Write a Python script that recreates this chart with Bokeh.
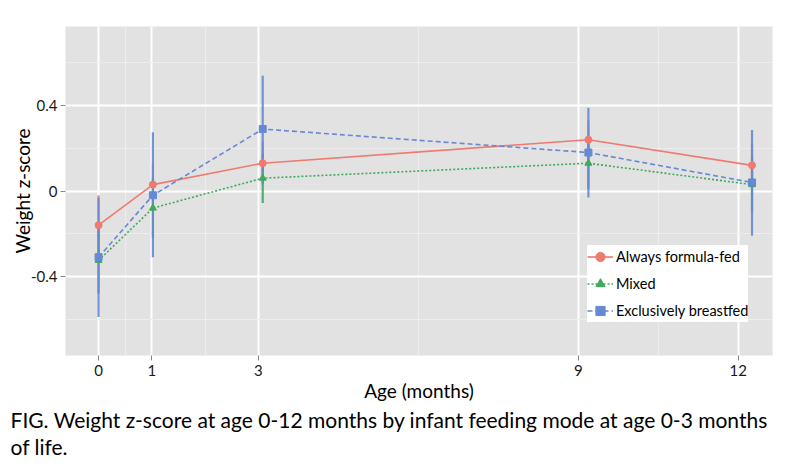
from bokeh.plotting import figure
from bokeh.models import Range1d, FixedTicker, Legend, LegendItem, Title, ColumnDataSource
from bokeh.embed import file_html
from bokeh.resources import INLINE

# ---- data ----
ages = [0.0, 1.02, 3.08, 9.19, 12.26]
x_ticks = [0, 1, 3, 9, 12]
y_ticks = [-0.4, 0.0, 0.4]

formula_mean = [-0.16, 0.03, 0.13, 0.24, 0.12]
formula_lo = [-0.30, -0.07, 0.03, 0.15, 0.02]
formula_hi = [-0.02, 0.13, 0.23, 0.33, 0.22]

mixed_mean = [-0.325, -0.08, 0.06, 0.13, 0.03]
mixed_lo = [-0.48, -0.22, -0.056, 0.01, -0.10]
mixed_hi = [-0.17, 0.06, 0.176, 0.25, 0.16]

breast_mean = [-0.31, -0.02, 0.29, 0.18, 0.04]
breast_lo = [-0.59, -0.31, 0.035, -0.03, -0.21]
breast_hi = [-0.03, 0.275, 0.54, 0.39, 0.285]

labels = ["Always formula-fed", "Mixed", "Exclusively breastfed"]
FONT = "Lato"

RED = "#EE7A70"
GREEN = "#3DAA5C"
BLUE = "#6689D2"

p = figure(width=773, height=459, output_backend="svg", toolbar_location=None,
           x_range=Range1d(-0.62, 12.644), y_range=Range1d(-0.77, 0.77),
           min_border_left=65, min_border_right=1, min_border_top=26, min_border_bottom=104)

p.background_fill_color = "#E2E2E2"
p.border_fill_color = "white"
p.outline_line_color = None

# axes
p.xaxis.ticker = FixedTicker(ticks=x_ticks, minor_ticks=[0.5, 2, 6, 10.5])
p.yaxis.ticker = FixedTicker(ticks=y_ticks, minor_ticks=[-0.6, -0.2, 0.2, 0.6])
p.yaxis.major_label_overrides = {-0.4: "-0.4", 0.0: "0", 0.4: "0.4", 0: "0"}
for ax in (p.xaxis[0], p.yaxis[0]):
    ax.axis_line_color = None
    ax.major_tick_line_color = "#888888"
    ax.major_tick_in = 0
    ax.major_tick_out = 5
    ax.minor_tick_line_color = None
    ax.major_label_text_font = FONT
    ax.major_label_text_font_size = "15px"
    ax.major_label_text_color = "#1a1a1a"
    ax.axis_label_text_font = FONT
    ax.axis_label_text_font_size = "19px"
    ax.axis_label_text_font_style = "normal"
    ax.axis_label_text_color = "black"
p.xaxis.axis_label = "Age (months)"
p.yaxis.axis_label = "Weight z-score"
p.xaxis.major_label_standoff = 4
p.xaxis.axis_label_standoff = 0
p.yaxis.major_label_standoff = 3
p.yaxis.axis_label_standoff = -6

# grid
for g in (p.xgrid[0], p.ygrid[0]):
    g.grid_line_color = "white"
    g.grid_line_width = 2
    g.minor_grid_line_color = "#EDEDED"
    g.minor_grid_line_width = 1

series = [
    (formula_mean, formula_lo, formula_hi, RED, "solid", "circle"),
    (mixed_mean, mixed_lo, mixed_hi, GREEN, "2 2", "triangle"),
    (breast_mean, breast_lo, breast_hi, BLUE, "5 3", "square"),
]

# error bars
for mean, lo, hi, col, dash, marker in series:
    src = ColumnDataSource(dict(x=ages, lo=lo, hi=hi))
    p.segment(x0="x", y0="lo", x1="x", y1="hi", source=src, line_color=col, line_width=2.2, line_alpha=0.9)

items = []
for (mean, lo, hi, col, dash, marker), lab in zip(series, labels):
    src = ColumnDataSource(dict(x=ages, y=mean))
    lr = p.line("x", "y", source=src, line_color=col, line_width=1.6, line_dash=dash)
    sr = p.scatter("x", "y", source=src, marker=marker, size=7, fill_color=col, line_color=col)
    items.append(LegendItem(label=lab, renderers=[lr, sr]))

legend = Legend(items=items, location=(522, 33), background_fill_color="white",
                background_fill_alpha=1.0, border_line_color=None,
                label_text_font=FONT, label_text_font_size="14.5px", label_text_color="black",
                padding=4, spacing=4, margin=0, glyph_width=26, glyph_height=23,
                label_height=23, label_standoff=3)
p.add_layout(legend, "center")

# caption below
cap1 = Title(text="FIG. Weight z-score at age 0-12 months by infant feeding mode at age 0-3 months",
             align="left", offset=-55, text_font=FONT, text_font_size="21px",
             text_font_style="normal", text_color="black", standoff=0)
cap2 = Title(text="of life.", align="left", offset=-55, text_font=FONT, text_font_size="21px",
             text_font_style="normal", text_color="black", standoff=0)
p.add_layout(cap1, "below")
p.add_layout(cap2, "below")

open("out.html", "w").write(file_html(p, INLINE))
